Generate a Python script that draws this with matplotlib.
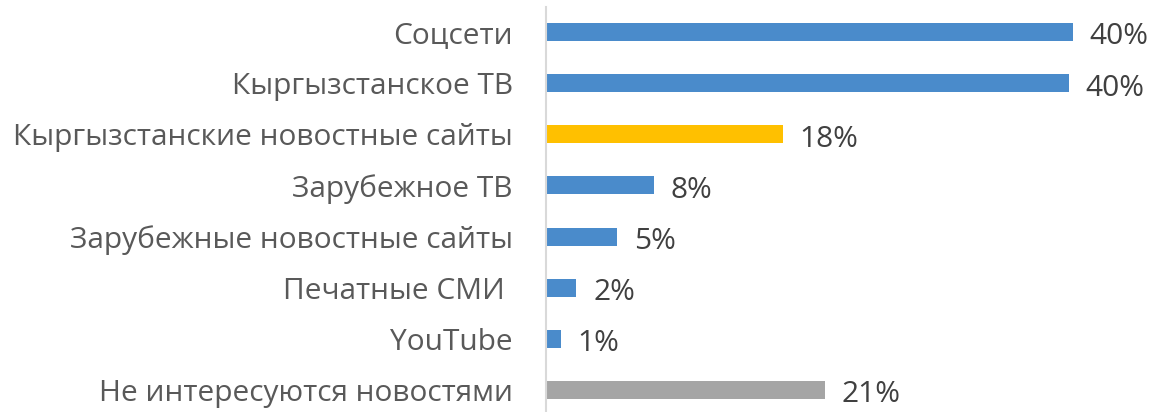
import matplotlib
matplotlib.use("Agg")
import matplotlib.pyplot as plt

# Sources of news (share of respondents, %)
categories = [
    "Соцсети",
    "Кыргызстанское ТВ",
    "Кыргызстанские новостные сайты",
    "Зарубежное ТВ",
    "Зарубежные новостные сайты",
    "Печатные СМИ ",
    "YouTube",
    "Не интересуются новостями",
]
values = [39.9, 39.6, 17.95, 8.2, 5.4, 2.3, 1.1, 21.1]
colors = ["#4A8BCB", "#4A8BCB", "#FFC000", "#4A8BCB",
          "#4A8BCB", "#4A8BCB", "#4A8BCB", "#A5A5A5"]

plt.rcParams["font.family"] = ["Open Sans", "DejaVu Sans"]
label_color = "#595959"
value_color = "#404040"

W, H = 1154, 412
fig = plt.figure(figsize=(W / 100, H / 100), dpi=100)
ax_left, ax_top, ax_bottom = 546, 6.5, 415.5
ax = fig.add_axes([ax_left / W, (H - ax_bottom) / H,
                   (W - ax_left) / W, (ax_bottom - ax_top) / H])

y = list(range(len(categories)))
ax.barh(y, values, height=0.35, color=colors, zorder=2)
ax.set_ylim(len(categories) - 0.5, -0.5)
ax.set_xlim(0, (W - ax_left) / 13.2)

for yi, v in zip(y, values):
    ax.annotate(f"{v:.0f}%", xy=(v, yi), xytext=(12, -3.5),
                textcoords="offset points", va="center", ha="left",
                fontsize=21.5, color=value_color)

ax.set_yticks(y)
ax.set_yticklabels(categories, fontsize=21.5, color=label_color)
ax.tick_params(axis="y", length=0, pad=24)
ax.set_xticks([])

for side in ["top", "right", "bottom"]:
    ax.spines[side].set_visible(False)
ax.spines["left"].set_color("#D9D9D9")
ax.spines["left"].set_linewidth(1.5)

fig.savefig("out.png", dpi=100)
